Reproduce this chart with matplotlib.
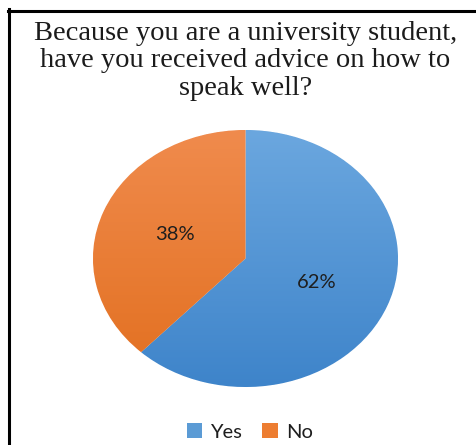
import numpy as np
import matplotlib
matplotlib.use("Agg")
import matplotlib.pyplot as plt
from matplotlib.colors import LinearSegmentedColormap
from matplotlib.lines import Line2D
from matplotlib.patches import Patch

# Survey answers
title = "Because you are a university student,\nhave you received advice on how to\nspeak well?"
answers = ["Yes", "No"]
shares = [62, 38]

# top / bottom shades for each slice
top_colors = ["#6ba7df", "#f08b4d"]
bottom_colors = ["#3e84ca", "#e26f1f"]
legend_colors = ["#5b9bd5", "#ed7d31"]

fig = plt.figure(figsize=(4.76, 4.45), dpi=100)
fig.patch.set_facecolor("white")

ax = fig.add_axes([93 / 476, 58 / 445, 305 / 476, 257 / 445])
wedges, texts, autotexts = ax.pie(
    shares,
    startangle=90,
    counterclock=False,
    autopct="%1.0f%%",
    pctdistance=0.5,
    colors=legend_colors,
    wedgeprops=dict(edgecolor="white", linewidth=0.6),
    textprops=dict(fontsize=14.5, family="Lato", color="#1e1e1e"),
)
ax.set_aspect("auto")
ax.set_xlim(-1, 1)
ax.set_ylim(-1, 1)
ax.axis("off")

# vertical gradient fill inside each slice
grad = np.linspace(1, 0, 256).reshape(-1, 1)
for w, c_top, c_bot in zip(wedges, top_colors, bottom_colors):
    cmap = LinearSegmentedColormap.from_list("g", [c_bot, c_top])
    im = ax.imshow(grad, cmap=cmap, extent=(-1, 1, -1, 1), origin="upper",
                   aspect="auto", zorder=w.get_zorder() + 0.1)
    im.set_clip_path(w)
for t in autotexts:
    t.set_zorder(5)

fig.text(0.515, 0.952, title, ha="center", va="top", fontsize=20.5,
         family="Liberation Serif", color="#1b1b1b", linespacing=1.11)

handles = [Patch(facecolor=c, edgecolor="none") for c in legend_colors]
fig.legend(handles, answers, loc="center", bbox_to_anchor=(0.525, 0.029),
           ncol=2, frameon=False, prop=dict(family="Lato", size=14.5),
           handlelength=0.75, handleheight=0.75, handletextpad=0.4,
           columnspacing=1.0, labelcolor="#1e1e1e")

# frame lines on the left and top edge
fig.add_artist(Line2D([9 / 476, 9 / 476], [0, 1 - 9 / 445], color="black", lw=2.2,
                      transform=fig.transFigure))
fig.add_artist(Line2D([8 / 476, 1], [1 - 11 / 445, 1 - 11 / 445], color="black", lw=2.2,
                      transform=fig.transFigure))

fig.savefig("out.png", dpi=100)
